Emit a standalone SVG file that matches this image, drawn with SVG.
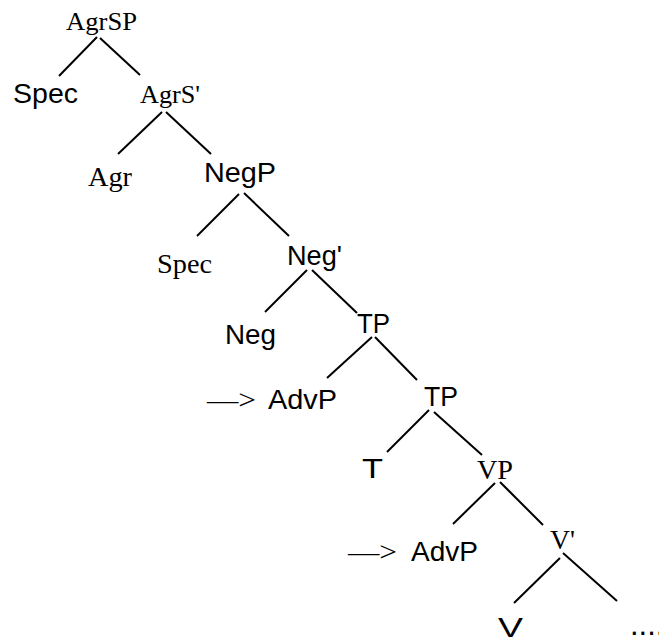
<svg xmlns="http://www.w3.org/2000/svg" width="659" height="639" viewBox="0 0 659 639">
  <style>
    .serif { font-family: "Liberation Serif", "Times New Roman", serif; font-size: 28px; fill: #000; }
    .sans { font-family: "Liberation Sans", Arial, sans-serif; font-size: 28px; fill: #000; }
    .big { font-size: 26px; }
    .edge { stroke: #000; stroke-width: 2; stroke-linecap: butt; fill: none; }
  </style>
  <rect width="659" height="639" fill="#fff"/>

  <!-- tree branches -->
  <g id="connectors">
    <line class="edge" x1="97" y1="37" x2="59" y2="76"/>
    <line class="edge" x1="100" y1="38" x2="140" y2="75"/>
    <line class="edge" x1="162" y1="112" x2="118" y2="154"/>
    <line class="edge" x1="166" y1="112" x2="211" y2="154"/>
    <line class="edge" x1="239" y1="194" x2="197" y2="236"/>
    <line class="edge" x1="244" y1="193" x2="289" y2="236"/>
    <line class="edge" x1="307" y1="270" x2="265" y2="312"/>
    <line class="edge" x1="312" y1="270" x2="357" y2="313"/>
    <line class="edge" x1="372" y1="337" x2="327" y2="378"/>
    <line class="edge" x1="375" y1="337" x2="417" y2="380"/>
    <line class="edge" x1="429" y1="410" x2="387" y2="452"/>
    <line class="edge" x1="434" y1="412" x2="482" y2="455"/>
    <line class="edge" x1="495" y1="483" x2="453" y2="524"/>
    <line class="edge" x1="500" y1="482" x2="543" y2="525"/>
    <line class="edge" x1="560" y1="558" x2="514" y2="603"/>
    <line class="edge" x1="563" y1="553" x2="617" y2="601"/>
  </g>

  <!-- node labels -->
  <g id="agrsp"><text class="serif big" x="66" y="30" textLength="71" lengthAdjust="spacingAndGlyphs">AgrSP</text></g>
  <g id="spec1"><text class="sans" x="13" y="103" textLength="65" lengthAdjust="spacingAndGlyphs">Spec</text></g>
  <g id="agrs-bar"><text class="serif big" x="140" y="103" textLength="60" lengthAdjust="spacingAndGlyphs">AgrS'</text></g>
  <g id="agr"><text class="serif" x="88" y="186" textLength="44" lengthAdjust="spacingAndGlyphs">Agr</text></g>
  <g id="negp"><text class="sans" x="204" y="182" textLength="72" lengthAdjust="spacingAndGlyphs">NegP</text></g>
  <g id="spec2"><text class="serif" x="157" y="273" textLength="55" lengthAdjust="spacingAndGlyphs">Spec</text></g>
  <g id="neg-bar"><text class="sans" x="287" y="265" textLength="55" lengthAdjust="spacingAndGlyphs">Neg'</text></g>
  <g id="neg"><text class="sans" x="225" y="344" textLength="51" lengthAdjust="spacingAndGlyphs">Neg</text></g>
  <g id="tp1"><text class="sans" x="357" y="333" textLength="33" lengthAdjust="spacingAndGlyphs">TP</text></g>
  <g id="advp1">
    <text class="serif" x="207" y="409" textLength="49" lengthAdjust="spacingAndGlyphs">—&gt;</text>
    <text class="sans" x="268" y="409" textLength="69" lengthAdjust="spacingAndGlyphs">AdvP</text>
  </g>
  <g id="tp2"><text class="sans" x="424" y="406" textLength="34" lengthAdjust="spacingAndGlyphs">TP</text></g>
  <g id="t"><text class="sans" x="362" y="478" textLength="21" lengthAdjust="spacingAndGlyphs">T</text></g>
  <g id="vp"><text class="serif" x="477" y="479" textLength="36" lengthAdjust="spacingAndGlyphs">VP</text></g>
  <g id="advp2">
    <text class="serif" x="348" y="561" textLength="49" lengthAdjust="spacingAndGlyphs">—&gt;</text>
    <text class="sans" x="411" y="561" textLength="67" lengthAdjust="spacingAndGlyphs">AdvP</text>
  </g>
  <g id="v-bar"><text class="serif" x="550" y="549" textLength="25" lengthAdjust="spacingAndGlyphs">V'</text></g>
  <g id="v"><text class="sans" x="498" y="637" textLength="25" lengthAdjust="spacingAndGlyphs">V</text></g>
  <g id="rest"><text class="sans" x="630" y="635" style="font-size:31px">....</text></g>
</svg>
